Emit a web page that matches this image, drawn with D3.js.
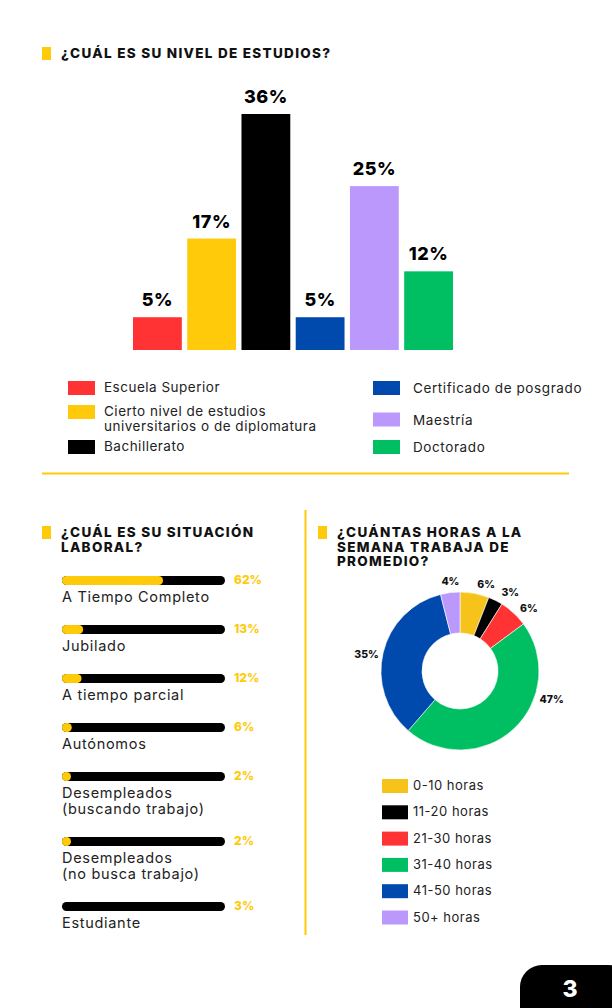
<!DOCTYPE html>
<html>
<head>
<meta charset="utf-8">
<script src="https://cdn.jsdelivr.net/npm/d3@7"></script>
<style>
  body { margin: 0; background: #fff; }
  svg { display: block; font-family: Inter, "Noto Sans", sans-serif; }
</style>
</head>
<body>
<div id="app"></div>
<script>
// nivel de estudios
const eduLabels = ['Escuela Superior', 'Cierto nivel de estudios\nuniversitarios o de diplomatura', 'Bachillerato',
  'Certificado de posgrado', 'Maestría', 'Doctorado']
const eduValues = [5, 17, 36, 5, 25, 12]
const eduColors = ['#ff3333', '#ffca0a', '#000000', '#004aad', '#bb99fc', '#00bf63']

// situación laboral
const workLabels = ['A Tiempo Completo', 'Jubilado', 'A tiempo parcial', 'Autónomos',
  'Desempleados\n(buscando trabajo)', 'Desempleados\n(no busca trabajo)', 'Estudiante']
const workValues = [62, 13, 12, 6, 2, 2, 3]
// yellow fill as drawn in the source (Estudiante shows none)
const workFill = [62, 13, 12, 6, 2, 2, 0]

// horas por semana
const hourLabels = ['0-10 horas', '11-20 horas', '21-30 horas', '31-40 horas', '41-50 horas', '50+ horas']
const hourValues = [6, 3, 6, 47, 35, 4]
const hourColors = ['#f6c31b', '#000000', '#ff3333', '#00bf63', '#004aad', '#bb99fc']

const yellow = '#ffca0a'
const w = 612
const h = 1008

const svg = d3.select('#app').append('svg')
  .attr('width', w)
  .attr('height', h)

svg.append('rect').attr('width', w).attr('height', h).attr('fill', '#fff')

function heading (x, y, lines) {
  svg.append('rect')
    .attr('x', x).attr('y', y - 11)
    .attr('width', 9).attr('height', 13)
    .attr('fill', yellow)
  const t = svg.append('text')
    .attr('x', x + 19).attr('y', y)
    .style('font-size', '13.5px')
    .style('font-weight', 800)
    .style('letter-spacing', '1.3px')
    .attr('fill', '#111')
  lines.forEach((l, i) => {
    t.append('tspan').attr('x', x + 19).attr('dy', i ? 14.5 : 0).text(l)
  })
}

function multiline (sel, str, x, lh) {
  str.split('\n').forEach((l, i) => {
    sel.append('tspan').attr('x', x).attr('dy', i ? lh : 0).text(l)
  })
}

// ---- top bar chart
heading(42, 58, ['¿CUÁL ES SU NIVEL DE ESTUDIOS?'])

const xBand = d3.scaleBand()
  .domain(eduLabels)
  .range([133, 453])
  .paddingInner(0.1)

const yLin = d3.scaleLinear()
  .domain([0, 36])
  .range([350, 114])

const bars = svg.append('g')
bars.selectAll('rect')
  .data(eduValues)
  .enter()
  .append('rect')
  .attr('x', (d, i) => xBand(eduLabels[i]))
  .attr('y', d => yLin(d))
  .attr('width', xBand.bandwidth())
  .attr('height', d => yLin(0) - yLin(d))
  .attr('fill', (d, i) => eduColors[i])

bars.selectAll('text')
  .data(eduValues)
  .enter()
  .append('text')
  .attr('x', (d, i) => xBand(eduLabels[i]) + xBand.bandwidth() / 2)
  .attr('y', d => yLin(d) - 11)
  .attr('text-anchor', 'middle')
  .style('font-size', '18px')
  .style('font-weight', 800)
  .style('letter-spacing', '0.5px')
  .attr('fill', '#000')
  .text(d => d + '%')

// legend
const legLeft = [0, 1, 2]
const legRight = [3, 4, 5]
let ly = 381
const rowCenters = []
legLeft.forEach(i => {
  const n = eduLabels[i].split('\n').length
  svg.append('rect').attr('x', 68).attr('y', ly).attr('width', 27).attr('height', 14).attr('fill', eduColors[i])
  const t = svg.append('text').attr('x', 104).attr('y', ly + 11)
    .style('font-size', '13.5px').style('letter-spacing', '0.5px').attr('fill', '#222')
  multiline(t, eduLabels[i], 104, 15)
  rowCenters.push(ly + 7 + (n - 1) * 7.5)
  ly += 24 + (n - 1) * 11
})
legRight.forEach((i, k) => {
  const cy = rowCenters[k]
  svg.append('rect').attr('x', 373).attr('y', cy - 7).attr('width', 27).attr('height', 14).attr('fill', eduColors[i])
  svg.append('text').attr('x', 413).attr('y', cy + 5)
    .style('font-size', '13.5px').style('letter-spacing', '0.6px').attr('fill', '#222')
    .text(eduLabels[i])
})

// dividers
svg.append('line').attr('x1', 42).attr('x2', 569).attr('y1', 473.5).attr('y2', 473.5)
  .attr('stroke', yellow).attr('stroke-width', 2)
svg.append('line').attr('x1', 305.5).attr('x2', 305.5).attr('y1', 510).attr('y2', 935)
  .attr('stroke', yellow).attr('stroke-width', 2)

// ---- situación laboral
heading(42, 537, ['¿CUÁL ES SU SITUACIÓN', 'LABORAL?'])

const xProg = d3.scaleLinear().domain([0, 100]).range([62, 225])
const barH = 9
let rowTop = 576
const prog = svg.append('g')
workLabels.forEach((lab, i) => {
  const n = lab.split('\n').length
  prog.append('rect')
    .attr('x', xProg(0)).attr('y', rowTop)
    .attr('width', xProg(100) - xProg(0)).attr('height', barH)
    .attr('rx', barH / 2)
    .attr('fill', '#000')
  if (workFill[i] > 0) {
    prog.append('rect')
      .attr('x', xProg(0)).attr('y', rowTop)
      .attr('width', Math.max(barH, xProg(workFill[i]) - xProg(0))).attr('height', barH)
      .attr('rx', barH / 2)
      .attr('fill', yellow)
  }
  prog.append('text')
    .attr('x', 234).attr('y', rowTop + 8)
    .style('font-size', '12px').style('font-weight', 800)
    .attr('fill', yellow)
    .text(workValues[i] + '%')
  const t = prog.append('text').attr('x', 62).attr('y', rowTop + 26)
    .style('font-size', '14.5px').style('letter-spacing', '0.7px').attr('fill', '#222')
  multiline(t, lab, 62, 15.5)
  rowTop += 49 + (n - 1) * 16
})

// ---- horas donut
heading(318, 537, ['¿CUÁNTAS HORAS A LA', 'SEMANA TRABAJA DE', 'PROMEDIO?'])

const cx = 460
const cy = 671
const pie = d3.pie().sort(null)
const arc = d3.arc().innerRadius(38).outerRadius(79)
const arcs = pie(hourValues)

const donut = svg.append('g').attr('transform', `translate(${cx},${cy})`)
donut.selectAll('path')
  .data(arcs)
  .enter()
  .append('path')
  .attr('d', arc)
  .attr('fill', (d, i) => hourColors[i])
  .attr('stroke', '#fff')
  .attr('stroke-width', 0.6)

// label angle nudges (deg) and radii, matching the hand-placed labels
const labelNudge = [6, 6, 5, -30, -3, 1]
const labelR = [91, 93, 93, 96, 95, 90]
donut.selectAll('text')
  .data(arcs)
  .enter()
  .append('text')
  .attr('x', (d, i) => {
    const a = (d.startAngle + d.endAngle) / 2 + labelNudge[i] * Math.PI / 180
    return Math.sin(a) * labelR[i]
  })
  .attr('y', (d, i) => {
    const a = (d.startAngle + d.endAngle) / 2 + labelNudge[i] * Math.PI / 180
    return -Math.cos(a) * labelR[i]
  })
  .attr('dy', '0.35em')
  .attr('text-anchor', 'middle')
  .style('font-size', '10.5px')
  .style('font-weight', 800)
  .attr('fill', '#111')
  .text(d => d.data + '%')

// legend
const hLeg = svg.append('g')
hourLabels.forEach((lab, i) => {
  const y0 = 779 + i * 26.3
  hLeg.append('rect').attr('x', 382).attr('y', y0).attr('width', 26).attr('height', 14).attr('fill', hourColors[i])
  hLeg.append('text').attr('x', 413).attr('y', y0 + 11)
    .style('font-size', '13px').style('letter-spacing', '0.5px').attr('fill', '#222')
    .text(lab)
})

// page number
svg.append('rect')
  .attr('x', 520).attr('y', 965)
  .attr('width', 110).attr('height', 70)
  .attr('rx', 22)
  .attr('fill', '#000')
svg.append('text')
  .attr('x', 570).attr('y', 997)
  .attr('text-anchor', 'middle')
  .style('font-size', '23px').style('font-weight', 800)
  .attr('fill', '#fff')
  .text('3')
</script>
</body>
</html>
